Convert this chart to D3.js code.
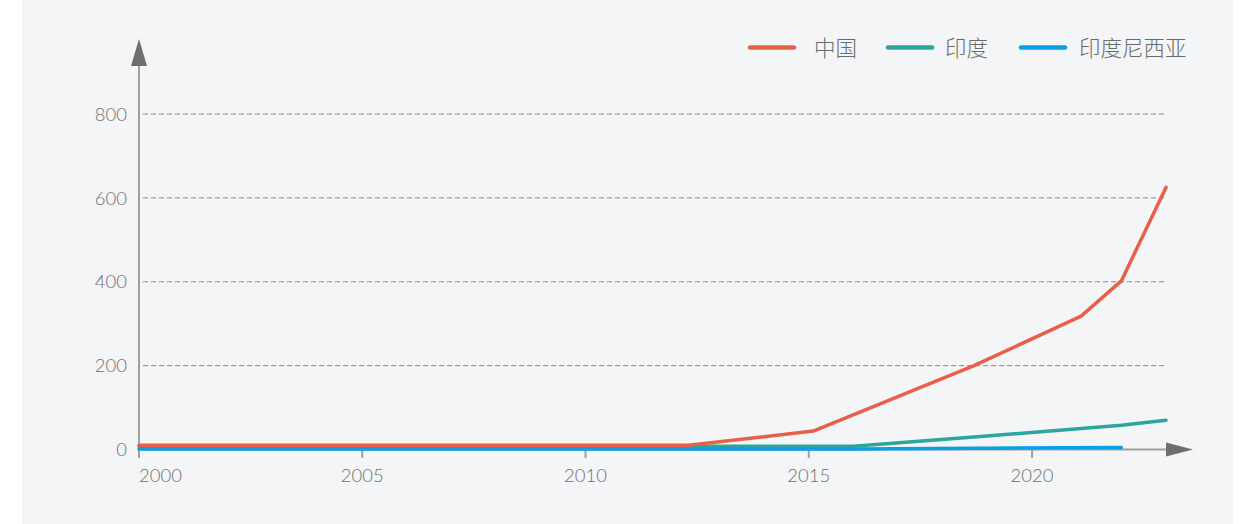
<!DOCTYPE html>
<html>
<head>
<meta charset="utf-8">
<script src="https://cdn.jsdelivr.net/npm/d3@7/dist/d3.min.js"></script>
<style>
  html, body { margin: 0; padding: 0; background: #ffffff; }
  svg { display: block; }
  .tick-label { font-family: Lato, "Noto Sans", sans-serif; font-weight: 300; fill: #707070; }
  .legend-label { font-family: "Noto Sans CJK SC", sans-serif; font-weight: 300; fill: #6a6a6a; }
</style>
</head>
<body>
<svg id="chart" width="1253" height="524"></svg>
<script>
// Series data: [year, value]
const seriesNames = ["中国", "印度", "印度尼西亚"];
const seriesColors = ["#e9604a", "#2aa69e", "#08a0e6"];
const chinaPoints = [[2000, 10], [2012.3, 10], [2015.1, 44], [2018.7, 200], [2021.1, 318], [2022.0, 402], [2023, 625]];
const indiaPoints = [[2000, 8], [2016.0, 8], [2018.7, 30], [2021.1, 50], [2022.0, 58], [2023, 70]];
const indonesiaPoints = [[2000, 1], [2016.0, 1], [2022.0, 5]];
const xTicks = [2000, 2005, 2010, 2015, 2020];
const yTicks = [0, 200, 400, 600, 800];

const svg = d3.select("#chart");
const W = 1253, H = 524;

// panel background
svg.append("rect").attr("x", 22).attr("y", 0).attr("width", 1211).attr("height", H).attr("fill", "#f4f5f7");

const x = d3.scaleLinear().domain([2000, 2023]).range([139, 1166]);
const y = d3.scaleLinear().domain([0, 800]).range([449.5, 114]);

// grid lines
svg.append("g").selectAll("line").data(yTicks.filter(d => d > 0)).join("line")
  .attr("x1", 143).attr("x2", 1166)
  .attr("y1", d => y(d)).attr("y2", d => y(d))
  .attr("stroke", "#8a8a8a").attr("stroke-width", 1).attr("stroke-dasharray", "5,3");

// y axis line and arrow
svg.append("line").attr("x1", 139).attr("x2", 139).attr("y1", 64).attr("y2", 458)
  .attr("stroke", "#a0a0a0").attr("stroke-width", 2);
svg.append("path").attr("d", "M139,39 L147,66 L131,66 Z").attr("fill", "#6e6e6e");

// x axis line and arrow
svg.append("line").attr("x1", 139).attr("x2", 1168).attr("y1", 449.5).attr("y2", 449.5)
  .attr("stroke", "#a0a0a0").attr("stroke-width", 2);
svg.append("path").attr("d", "M1193,449.5 L1166,442.5 L1166,456.5 Z").attr("fill", "#6e6e6e");

// x ticks
svg.append("g").selectAll("line").data(xTicks.slice(1)).join("line")
  .attr("x1", d => x(d)).attr("x2", d => x(d)).attr("y1", 449.5).attr("y2", 458)
  .attr("stroke", "#a0a0a0").attr("stroke-width", 2);

// y tick labels
svg.append("g").selectAll("text").data(yTicks).join("text")
  .attr("class", "tick-label")
  .attr("x", 127).attr("y", d => y(d)).attr("dy", "0.36em")
  .attr("text-anchor", "end").attr("font-size", 18.5)
  .text(d => d);

// x tick labels
svg.append("g").selectAll("text").data(xTicks).join("text")
  .attr("class", "tick-label")
  .attr("x", d => x(d)).attr("y", 482)
  .attr("text-anchor", (d, i) => i === 0 ? "start" : "middle").attr("font-size", 18.5)
  .text(d => d);

// lines
const line = d3.line().x(d => x(d[0])).y(d => y(d[1]));
const allSeries = [chinaPoints, indiaPoints, indonesiaPoints];
const drawOrder = [1, 2, 0];
drawOrder.forEach(i => {
  svg.append("path").datum(allSeries[i])
    .attr("d", line)
    .attr("fill", "none")
    .attr("stroke", seriesColors[i])
    .attr("stroke-width", 3.5)
    .attr("stroke-linejoin", "round")
    .attr("stroke-linecap", "round");
});

// legend
const legendItems = [
  { lx: 748, tx: 814 },
  { lx: 886, tx: 945 },
  { lx: 1019, tx: 1079 }
];
const legend = svg.append("g");
seriesNames.forEach((name, i) => {
  const it = legendItems[i];
  legend.append("line").attr("x1", it.lx + 2).attr("x2", it.lx + 46).attr("y1", 47.5).attr("y2", 47.5)
    .attr("stroke", seriesColors[i]).attr("stroke-width", 4.5).attr("stroke-linecap", "round");
  legend.append("text").attr("class", "legend-label")
    .attr("x", it.tx).attr("y", 48).attr("dy", "0.36em").attr("font-size", 21.5)
    .text(name);
});
</script>
</body>
</html>
